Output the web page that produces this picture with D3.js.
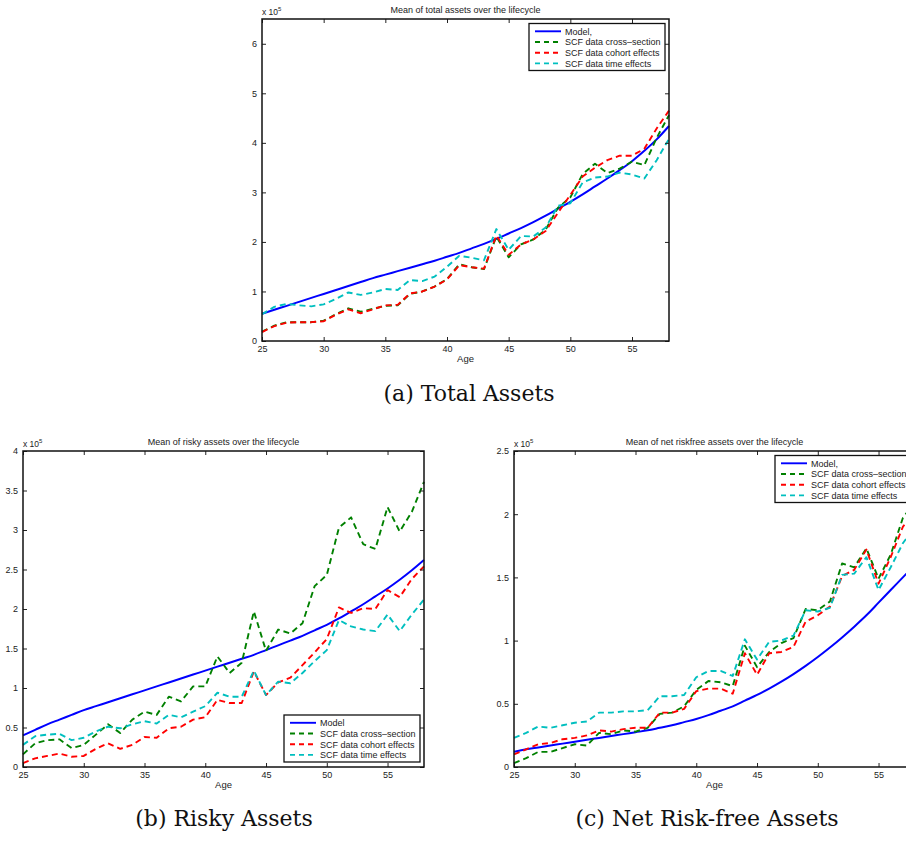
<!DOCTYPE html>
<html>
<head>
<meta charset="utf-8">
<script src="https://cdn.jsdelivr.net/npm/d3@7/dist/d3.min.js"></script>
<style>
  body { margin: 0; background: #fff; }
  svg { display: block; font-family: "Liberation Sans", Arial, Helvetica, sans-serif; }
  .caption { font-family: "DejaVu Serif", serif; }
</style>
</head>
<body>
<div id="chart"></div>
<script>
// ages on the x axis
const ages = [25, 26, 27, 28, 29, 30, 31, 32, 33, 34, 35, 36, 37, 38, 39, 40, 41,
              42, 43, 44, 45, 46, 47, 48, 49, 50, 51, 52, 53, 54, 55, 56, 57, 58];
const xTicks = [25, 30, 35, 40, 45, 50, 55];

// (a) total assets, x 10^5
const totalModel  = [0.55, 0.63, 0.71, 0.79, 0.87, 0.95, 1.03, 1.11, 1.19, 1.27, 1.34, 1.41, 1.48, 1.55, 1.62, 1.70, 1.78,
                     1.87, 1.96, 2.06, 2.17, 2.28, 2.40, 2.53, 2.67, 2.81, 2.96, 3.12, 3.28, 3.45, 3.63, 3.84, 4.07, 4.34];
const totalCross  = [0.19, 0.31, 0.38, 0.38, 0.38, 0.41, 0.54, 0.66, 0.59, 0.65, 0.71, 0.72, 0.95, 1.00, 1.10, 1.25, 1.55,
                     1.49, 1.45, 2.11, 1.69, 1.95, 2.05, 2.25, 2.69, 2.90, 3.37, 3.58, 3.39, 3.48, 3.62, 3.55, 4.10, 4.56];
const totalCohort = [0.18, 0.30, 0.37, 0.38, 0.38, 0.40, 0.53, 0.64, 0.56, 0.64, 0.72, 0.73, 0.96, 1.00, 1.10, 1.24, 1.53,
                     1.49, 1.46, 2.13, 1.74, 1.95, 2.05, 2.22, 2.59, 2.95, 3.32, 3.50, 3.65, 3.74, 3.74, 3.88, 4.29, 4.65];
const totalTime   = [0.54, 0.69, 0.75, 0.72, 0.70, 0.74, 0.85, 0.98, 0.93, 0.98, 1.05, 1.03, 1.23, 1.21, 1.30, 1.50, 1.72,
                     1.68, 1.63, 2.26, 1.84, 2.12, 2.11, 2.29, 2.73, 2.78, 3.20, 3.30, 3.32, 3.40, 3.36, 3.28, 3.65, 4.08];

// (b) risky assets, x 10^5
const riskyModel  = [0.40, 0.47, 0.54, 0.60, 0.66, 0.72, 0.77, 0.82, 0.87, 0.92, 0.97, 1.02, 1.07, 1.12, 1.17, 1.22, 1.27,
                     1.32, 1.37, 1.42, 1.48, 1.54, 1.60, 1.66, 1.73, 1.80, 1.88, 1.97, 2.06, 2.16, 2.26, 2.37, 2.49, 2.62];
const riskyCross  = [0.16, 0.30, 0.34, 0.35, 0.24, 0.28, 0.41, 0.54, 0.43, 0.60, 0.70, 0.66, 0.89, 0.83, 1.02, 1.02, 1.40,
                     1.19, 1.32, 1.97, 1.47, 1.74, 1.69, 1.82, 2.29, 2.43, 3.03, 3.16, 2.82, 2.76, 3.29, 2.98, 3.23, 3.61];
const riskyCohort = [0.05, 0.11, 0.14, 0.17, 0.13, 0.14, 0.23, 0.30, 0.23, 0.28, 0.38, 0.37, 0.49, 0.51, 0.60, 0.63, 0.85,
                     0.81, 0.81, 1.21, 0.91, 1.07, 1.13, 1.29, 1.45, 1.62, 2.02, 1.95, 2.01, 2.00, 2.24, 2.15, 2.38, 2.54];
const riskyTime   = [0.28, 0.39, 0.41, 0.42, 0.34, 0.37, 0.45, 0.51, 0.49, 0.54, 0.58, 0.55, 0.66, 0.63, 0.70, 0.77, 0.94,
                     0.89, 0.89, 1.22, 0.91, 1.08, 1.06, 1.19, 1.34, 1.48, 1.86, 1.78, 1.74, 1.72, 1.93, 1.72, 1.93, 2.12];

// (c) net riskfree assets, x 10^5
const netModel  = [0.12, 0.14, 0.155, 0.17, 0.185, 0.20, 0.215, 0.23, 0.245, 0.26, 0.275, 0.29, 0.31, 0.33, 0.355, 0.38, 0.41,
                   0.445, 0.48, 0.525, 0.57, 0.62, 0.675, 0.735, 0.80, 0.87, 0.945, 1.025, 1.11, 1.20, 1.30, 1.40, 1.50, 1.60];
const netCross  = [0.03, 0.07, 0.12, 0.12, 0.15, 0.18, 0.17, 0.27, 0.26, 0.29, 0.28, 0.31, 0.42, 0.43, 0.48, 0.61, 0.68,
                   0.67, 0.64, 0.96, 0.79, 0.91, 0.98, 1.02, 1.25, 1.24, 1.31, 1.61, 1.58, 1.73, 1.49, 1.68, 1.97, 2.10];
const netCohort = [0.10, 0.14, 0.18, 0.19, 0.22, 0.23, 0.25, 0.29, 0.28, 0.30, 0.31, 0.31, 0.43, 0.43, 0.46, 0.60, 0.62,
                   0.62, 0.58, 0.90, 0.73, 0.90, 0.91, 0.95, 1.15, 1.20, 1.27, 1.51, 1.56, 1.72, 1.45, 1.66, 1.90, 2.03];
const netTime   = [0.23, 0.27, 0.32, 0.31, 0.33, 0.35, 0.36, 0.43, 0.43, 0.44, 0.44, 0.45, 0.56, 0.56, 0.57, 0.71, 0.76,
                   0.76, 0.72, 1.01, 0.85, 0.99, 1.00, 1.04, 1.24, 1.23, 1.26, 1.52, 1.53, 1.66, 1.40, 1.58, 1.77, 1.90];

const seriesNames = ['Model', 'SCF data cross\u2013section', 'SCF data cohort effects', 'SCF data time effects'];
const seriesColors = ['#0000ff', '#008000', '#ff0000', '#00bfbf'];

const width = 906, height = 842;

const svg = d3.select('#chart').append('svg')
    .attr('width', width)
    .attr('height', height);

function Panel(opts) {
    this.opts = opts;
    this.x = d3.scaleLinear().domain([25, 58]).range([opts.left, opts.right]);
    this.y = d3.scaleLinear().domain([0, opts.yMax]).range([opts.bottom, opts.top]);
    this.g = svg.append('g');
}

Panel.prototype.drawAxes = function () {
    const o = this.opts, g = this.g;
    const tick = 4;

    g.append('g')
        .attr('transform', 'translate(0,' + o.bottom + ')')
        .call(d3.axisBottom(this.x).tickValues(xTicks).tickSizeInner(-tick).tickSizeOuter(0).tickPadding(5));
    g.append('g')
        .attr('transform', 'translate(0,' + o.top + ')')
        .call(d3.axisTop(this.x).tickValues(xTicks).tickSizeInner(-tick).tickSizeOuter(0).tickFormat(''));
    g.append('g')
        .attr('transform', 'translate(' + o.left + ',0)')
        .call(d3.axisLeft(this.y).tickValues(o.yTicks).tickSizeInner(-tick).tickSizeOuter(0).tickPadding(5)
            .tickFormat(d => d));
    g.append('g')
        .attr('transform', 'translate(' + o.right + ',0)')
        .call(d3.axisRight(this.y).tickValues(o.yTicks).tickSizeInner(-tick).tickSizeOuter(0).tickFormat(''));

    g.selectAll('.domain').remove();
    g.selectAll('.tick line').attr('stroke', '#222').attr('stroke-width', 1);
    g.selectAll('.tick text').attr('font-size', 9).attr('fill', '#222')
        .attr('font-family', '"Liberation Sans", Arial, sans-serif');

    // axes box
    g.append('rect')
        .attr('x', o.left).attr('y', o.top)
        .attr('width', o.right - o.left).attr('height', o.bottom - o.top)
        .attr('fill', 'none').attr('stroke', '#111').attr('stroke-width', 1.5);

    // exponent label
    const ex = g.append('text')
        .attr('x', o.left).attr('y', o.top - 4)
        .attr('font-size', 8.5).attr('fill', '#222');
    ex.append('tspan').text('x 10');
    ex.append('tspan').attr('font-size', 6).attr('dy', -4.5).text('5');

    // title
    g.append('text')
        .attr('x', (o.left + o.right) / 2).attr('y', o.top - 6.5)
        .attr('text-anchor', 'middle').attr('font-size', 9).attr('fill', '#222')
        .text(o.title);

    // x label
    g.append('text')
        .attr('x', (o.left + o.right) / 2).attr('y', o.bottom + 21)
        .attr('text-anchor', 'middle').attr('font-size', 9.5).attr('fill', '#222')
        .text('Age');
};

Panel.prototype.drawLines = function () {
    this.opts.series.forEach((values, k) => {
        // the model is a smooth curve, the data series are piecewise linear
        const line = d3.line()
            .x((d, i) => this.x(ages[i]))
            .y(d => this.y(d))
            .curve(k === 0 ? d3.curveMonotoneX : d3.curveLinear);
        this.g.append('path')
            .datum(values)
            .attr('fill', 'none')
            .attr('stroke', seriesColors[k])
            .attr('stroke-width', k === 0 ? 2 : 1.9)
            .attr('stroke-dasharray', k === 0 ? null : '6,4')
            .attr('stroke-linejoin', 'round')
            .attr('d', line);
    });
};

Panel.prototype.drawLegend = function () {
    const o = this.opts;
    const w = 136, h = 47;
    const lx = o.right - 4 - w;
    const ly = o.legendAt === 'bottom' ? o.bottom - 5 - h : o.top + 4.5;
    const lg = this.g.append('g').attr('transform', 'translate(' + lx + ',' + ly + ')');
    lg.append('rect')
        .attr('width', w).attr('height', h)
        .attr('fill', '#fff').attr('stroke', '#111').attr('stroke-width', 1.3);
    seriesNames.forEach((name, k) => {
        const ry = 7.8 + k * 10.7;
        lg.append('line')
            .attr('x1', 6).attr('x2', 32).attr('y1', ry).attr('y2', ry)
            .attr('stroke', seriesColors[k]).attr('stroke-width', 1.9)
            .attr('stroke-dasharray', k === 0 ? null : '5,4');
        lg.append('text')
            .attr('x', 36).attr('y', ry + 3.3)
            .attr('font-size', 9).attr('fill', '#222')
            .text(k === 0 ? o.modelLabel : name);
    });
};

Panel.prototype.drawCaption = function () {
    const o = this.opts;
    svg.append('text')
        .attr('class', 'caption')
        .attr('x', o.captionX).attr('y', o.captionY)
        .attr('text-anchor', 'middle').attr('font-size', 22).attr('fill', '#111')
        .text(o.caption);
};

Panel.prototype.draw = function () {
    this.drawLines();
    this.drawAxes();
    this.drawLegend();
    this.drawCaption();
};

new Panel({
    left: 262, right: 669, top: 19, bottom: 341,
    yMax: 6.5, yTicks: [0, 1, 2, 3, 4, 5, 6],
    title: 'Mean of total assets over the lifecycle',
    series: [totalModel, totalCross, totalCohort, totalTime],
    modelLabel: 'Model,', legendAt: 'top',
    caption: '(a) Total Assets', captionX: 469, captionY: 401
}).draw();

new Panel({
    left: 23, right: 424, top: 451, bottom: 767,
    yMax: 4, yTicks: [0, 0.5, 1, 1.5, 2, 2.5, 3, 3.5, 4],
    title: 'Mean of risky assets  over the lifecycle',
    series: [riskyModel, riskyCross, riskyCohort, riskyTime],
    modelLabel: 'Model', legendAt: 'bottom',
    caption: '(b) Risky Assets', captionX: 224, captionY: 826
}).draw();

new Panel({
    left: 514, right: 915, top: 451, bottom: 767,
    yMax: 2.5, yTicks: [0, 0.5, 1, 1.5, 2, 2.5],
    title: 'Mean of net riskfree assets over the lifecycle',
    series: [netModel, netCross, netCohort, netTime],
    modelLabel: 'Model,', legendAt: 'top',
    caption: '(c) Net Risk-free Assets', captionX: 707, captionY: 826
}).draw();
</script>
</body>
</html>
